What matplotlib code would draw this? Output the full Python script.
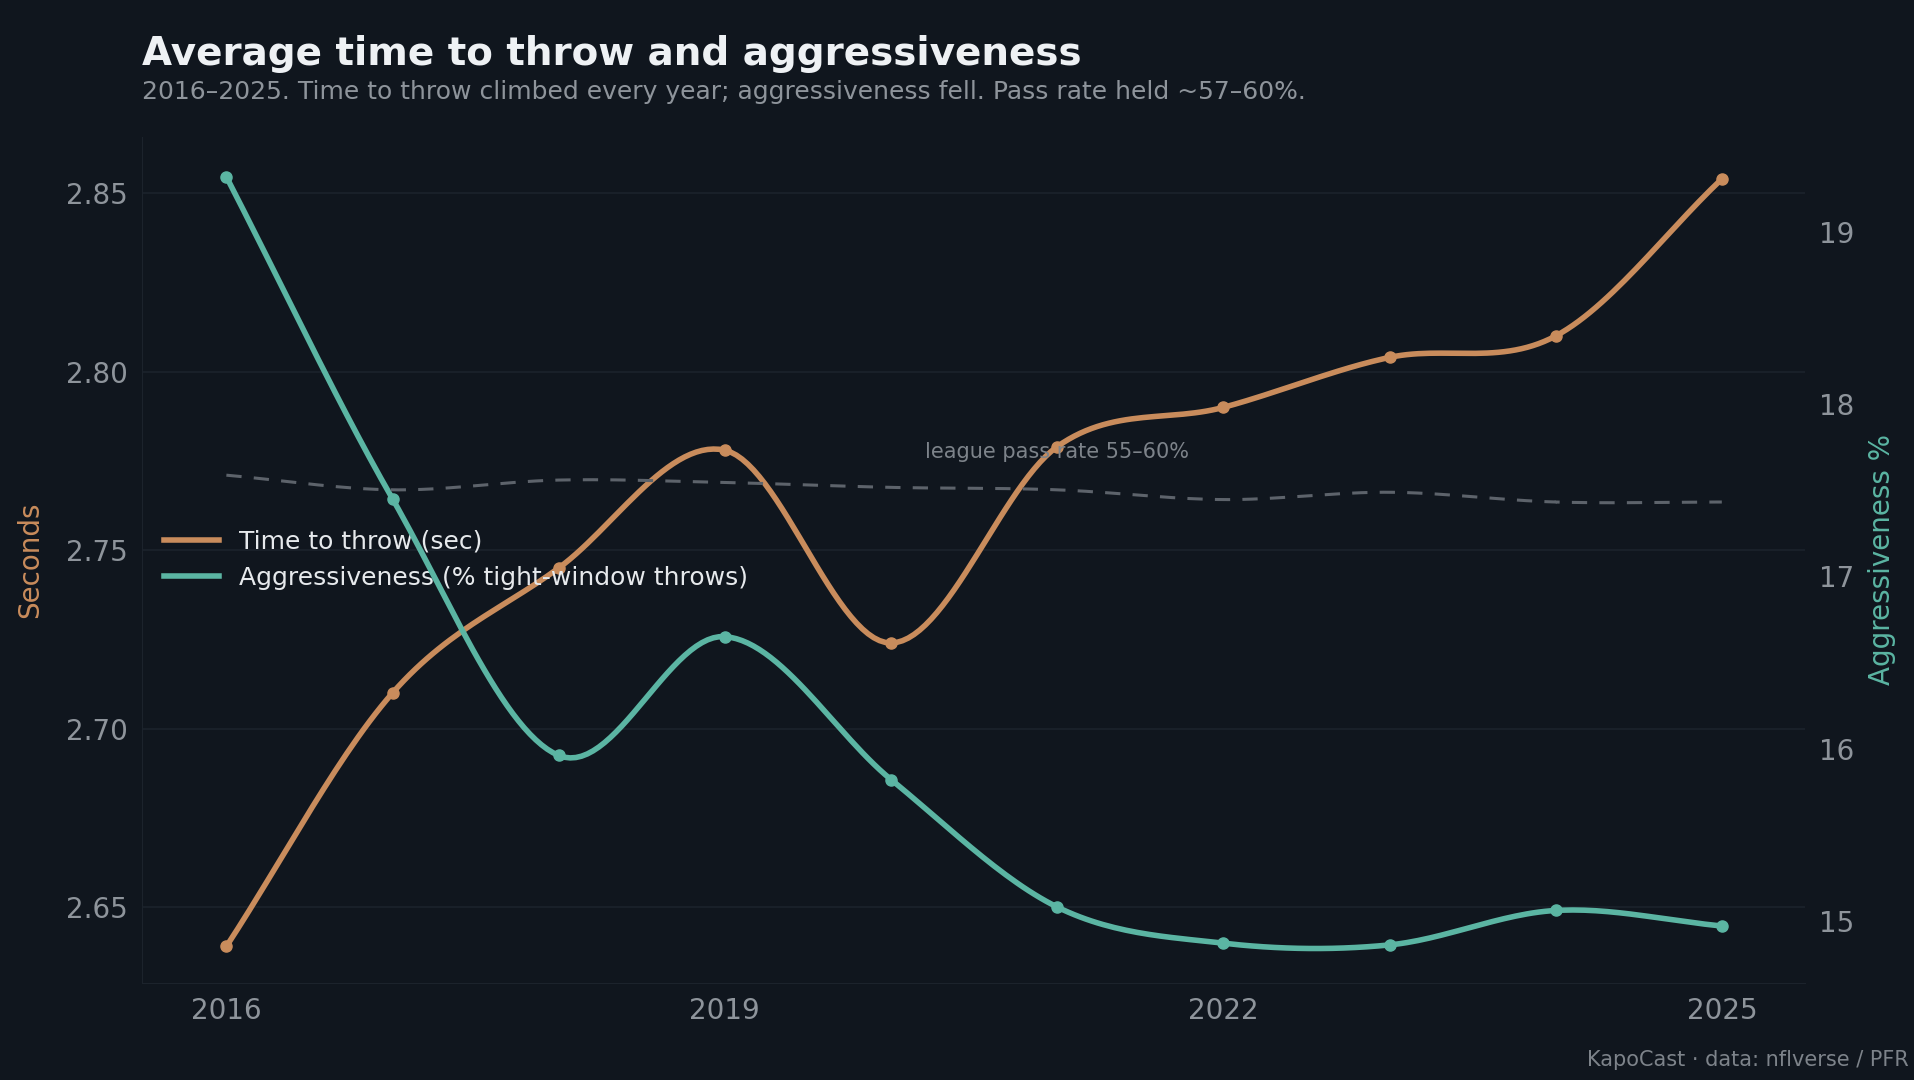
import matplotlib.pyplot as plt
import numpy as np

years = [2016, 2017, 2018, 2019, 2020, 2021, 2022, 2023, 2024, 2025]
ttt = [2.639, 2.710, 2.745, 2.778, 2.724, 2.779, 2.790, 2.804, 2.810, 2.854]
aggr = [19.32, 17.45, 15.96, 16.65, 15.82, 15.08, 14.87, 14.86, 15.06, 14.97]
pass_rate = [59.6, 59.0, 59.4, 59.3, 59.1, 59.0, 58.6, 58.9, 58.5, 58.5]

BG = '#10161e'
ORANGE = '#c98c5c'
TEAL = '#5bb5a3'
GRID = '#1c232c'
TXT = '#8e949b'


def smooth(x, y, n=30):
    # catmull-rom curve through the points, for display only
    x = np.asarray(x, float)
    y = np.asarray(y, float)
    px = np.concatenate([[2 * x[0] - x[1]], x, [2 * x[-1] - x[-2]]])
    py = np.concatenate([[2 * y[0] - y[1]], y, [2 * y[-1] - y[-2]]])
    xs, ys = [], []
    t = np.linspace(0, 1, n)
    for i in range(1, len(px) - 2):
        for arr, out in ((px, xs), (py, ys)):
            p0, p1, p2, p3 = arr[i - 1:i + 3]
            out.extend(0.5 * (2 * p1 + (-p0 + p2) * t + (2 * p0 - 5 * p1 + 4 * p2 - p3) * t ** 2
                              + (-p0 + 3 * p1 - 3 * p2 + p3) * t ** 3))
    return np.array(xs), np.array(ys)


fig = plt.figure(figsize=(19.14, 10.8), dpi=100, facecolor=BG)
ax = fig.add_axes([0.074, 0.09, 0.869, 0.783], facecolor=BG)
ax2 = ax.twinx()
ax3 = ax.twinx()

ax3.axis('off')
sx, sy = smooth(years, pass_rate)
ax3.plot(sx, sy, '--', color='#5d636b', lw=2.2, dashes=(5, 4))
ax3.set_ylim(38.8, 73.45)

sx, sy = smooth(years, ttt)
l1, = ax.plot(sx, sy, color=ORANGE, lw=4, label='Time to throw (sec)')
ax.plot(years, ttt, 'o', color=ORANGE, ms=8)
sx, sy = smooth(years, aggr)
l2, = ax2.plot(sx, sy, color=TEAL, lw=4, label='Aggressiveness (% tight-window throws)')
ax2.plot(years, aggr, 'o', color=TEAL, ms=8)

ax.set_xlim(2015.49, 2025.5)
ax.set_ylim(2.6288, 2.8657)
ax2.set_ylim(14.64, 19.55)
ax.set_xticks([2016, 2019, 2022, 2025])
ax.set_yticks([2.65, 2.70, 2.75, 2.80, 2.85])
ax.set_yticklabels([f'{v:.2f}' for v in [2.65, 2.70, 2.75, 2.80, 2.85]])
ax2.set_yticks([15, 16, 17, 18, 19])
ax.grid(axis='y', color=GRID, lw=1.2)
for a in (ax, ax2):
    for s in a.spines.values():
        s.set_visible(False)
    a.tick_params(colors=TXT, labelsize=20, length=0, pad=10)
ax.spines['bottom'].set_visible(True)
ax.spines['bottom'].set_color(GRID)
ax.spines['left'].set_visible(True)
ax.spines['left'].set_color(GRID)

ax.set_ylabel('Seconds', color=ORANGE, fontsize=20, labelpad=16)
ax2.set_ylabel('Aggressiveness %', color=TEAL, fontsize=20, labelpad=10)

ax3.text(2021.0, 60.3, 'league pass rate 55–60%', color='#7d838a', fontsize=15, ha='center')

leg = ax.legend(handles=[l1, l2], loc='center left', bbox_to_anchor=(0.0, 0.5),
                frameon=False, fontsize=18, labelcolor='#e6e9ec', handlelength=2.2)

fig.text(0.074, 0.950, 'Average time to throw and aggressiveness', color='#eef1f4',
         fontsize=28, fontweight='bold', va='center')
fig.text(0.074, 0.915, '2016–2025. Time to throw climbed every year; aggressiveness fell. Pass rate held ~57–60%.',
         color=TXT, fontsize=18, va='center')
fig.text(0.997, 0.013, 'KapoCast · data: nflverse / PFR', color='#7d838a', fontsize=15, ha='right')

fig.savefig('out.png', dpi=100, facecolor=BG)
